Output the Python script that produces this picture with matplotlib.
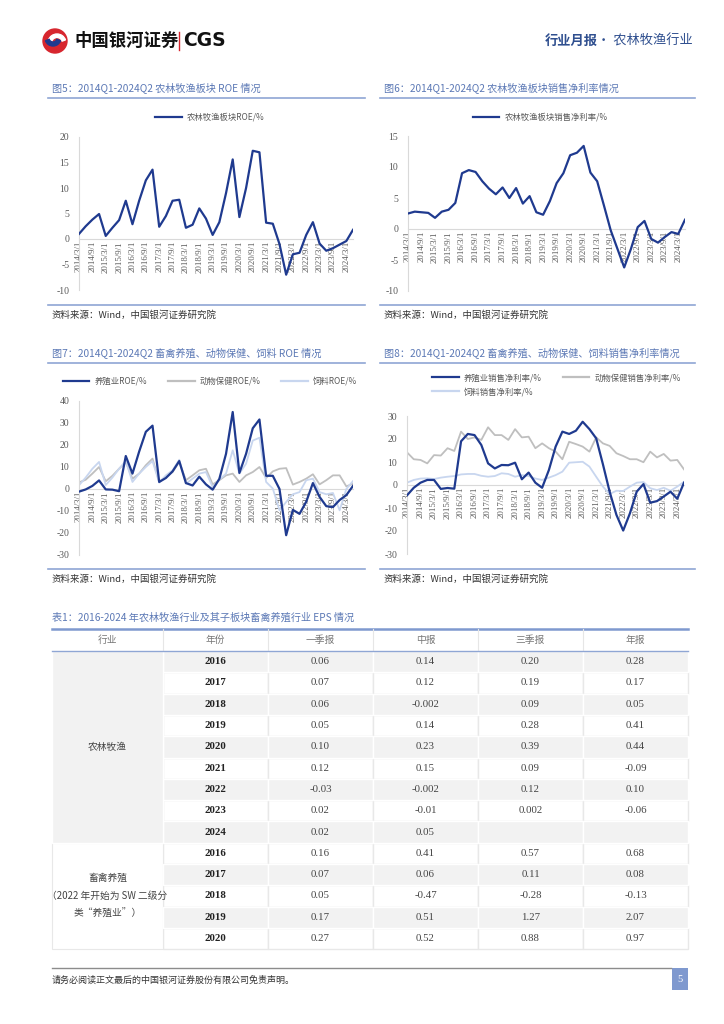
import matplotlib
matplotlib.use('Agg')
import matplotlib.pyplot as plt
from matplotlib.patches import Rectangle, Circle, Wedge
from matplotlib.lines import Line2D

plt.rcParams['font.family'] = ['Noto Sans CJK SC', 'DejaVu Sans']

# ---- data ----
tick_labels = ['2014/3/1', '2014/9/1', '2015/3/1', '2015/9/1', '2016/3/1', '2016/9/1',
               '2017/3/1', '2017/9/1', '2018/3/1', '2018/9/1', '2019/3/1', '2019/9/1',
               '2020/3/1', '2020/9/1', '2021/3/1', '2021/9/1', '2022/3/1', '2022/9/1',
               '2023/3/1', '2023/9/1', '2024/3/1']

# 图5 农林牧渔板块ROE/%  (2014Q1-2024Q2)
roe_all = [1.0, 2.5, 3.8, 4.9, 0.6, 2.2, 3.7, 7.5, 2.9, 7.5, 11.5, 13.6, 2.4, 4.5,
           7.5, 7.7, 2.2, 2.8, 6.0, 4.0, 0.8, 3.3, 9.0, 15.6, 4.3, 10.0, 17.3, 17.0,
           3.2, 3.0, -1.0, -7.0, -3.0, -2.7, 0.8, 3.3, -0.9, -2.3, -1.8, -1.1, -0.4, 1.8]

# 图6 农林牧渔板块销售净利率/%
npm_all = [2.5, 2.8, 2.7, 2.6, 1.8, 2.8, 3.1, 4.2, 9.0, 9.5, 9.2, 7.7, 6.5, 5.6,
           6.7, 5.0, 6.6, 4.1, 5.3, 2.7, 2.3, 4.5, 7.4, 9.0, 11.9, 12.3, 13.4, 9.1,
           7.7, 3.8, -0.2, -3.2, -6.2, -3.2, 0.3, 1.3, -1.6, -2.2, -1.3, -0.5, -0.8, 1.5]

# 图7 ROE/%
roe_breed = [-1.2, -0.2, 1.4, 3.9, -0.2, -0.3, -1.0, 15.0, 7.0, 17.0, 26.0, 28.8, 3.2, 5.0,
             8.0, 12.7, 2.7, 1.6, 5.6, 2.1, -0.3, 4.6, 16.0, 35.0, 7.3, 16.0, 27.6, 31.6,
             6.0, 6.0, 0.0, -21.0, -9.5, -11.3, -5.8, 2.7, -3.6, -7.8, -8.2, -5.0, -2.8, 1.4]
roe_health = [3.0, 4.2, 7.0, 10.0, 3.5, 6.0, 9.2, 12.3, 4.7, 7.0, 10.8, 13.8, 3.3, 5.5,
              7.7, 12.3, 4.0, 6.2, 8.5, 9.2, 2.1, 4.0, 6.2, 7.0, 3.2, 6.2, 7.7, 10.0,
              5.0, 8.0, 9.2, 9.5, 2.0, 3.2, 4.7, 6.7, 2.1, 4.0, 6.2, 6.2, 1.2, 2.4]
roe_feed = [1.7, 5.2, 9.2, 12.3, 1.8, 5.2, 9.2, 12.7, 3.2, 7.0, 10.0, 12.7, 2.9, 6.2,
            8.5, 13.3, 2.4, 4.7, 7.0, 7.7, 0.9, 4.2, 7.0, 17.6, 7.0, 11.5, 22.0, 23.3,
            3.2, 0.2, -9.7, -5.9, -2.4, -1.4, 4.0, 4.7, -1.4, -2.4, -1.8, -9.7, 0.0, 3.6]

# 图8 销售净利率/%
npm_breed = [-4.5, -1.2, 1.0, 2.2, 2.2, -1.7, -1.3, -1.6, 19.0, 22.2, 21.7, 17.4, 9.4, 7.2,
             8.7, 8.6, 9.7, 2.5, 5.4, 1.0, -1.2, 6.5, 16.7, 23.2, 22.2, 23.6, 27.5, 24.3,
             20.3, 9.0, -3.0, -13.0, -19.8, -12.3, -2.9, 0.4, -7.7, -7.0, -5.0, -2.9, -6.0, 1.0]
npm_health = [14.2, 11.2, 10.9, 9.4, 13.0, 12.8, 16.0, 14.8, 23.2, 20.0, 20.7, 19.6, 25.1, 21.7,
              21.7, 19.6, 24.3, 20.7, 21.0, 16.0, 18.1, 16.0, 14.5, 11.2, 18.8, 17.8, 16.7, 14.5,
              20.7, 18.1, 17.0, 13.8, 12.6, 11.2, 11.2, 9.9, 14.5, 12.0, 13.5, 10.6, 10.9, 6.8]
npm_feed = [1.0, 2.2, 2.8, 2.9, 2.6, 3.2, 3.6, 3.9, 4.6, 4.8, 4.8, 4.0, 3.6, 3.9,
            5.1, 4.8, 3.6, 4.3, 3.9, 2.8, 2.2, 3.2, 4.3, 5.8, 9.7, 9.9, 10.1, 8.0,
            3.6, -0.7, -3.9, -2.5, -2.6, -0.7, 1.0, 1.3, -1.4, -2.2, -1.2, -2.5, -0.7, 1.4]

# 表1 EPS
col_headers = ['行业', '年份', '一季报', '中报', '三季报', '年报']
years_a = ['2016', '2017', '2018', '2019', '2020', '2021', '2022', '2023', '2024']
q1_a = ['0.06', '0.07', '0.06', '0.05', '0.10', '0.12', '-0.03', '0.02', '0.02']
h1_a = ['0.14', '0.12', '-0.002', '0.14', '0.23', '0.15', '-0.002', '-0.01', '0.05']
q3_a = ['0.20', '0.19', '0.09', '0.28', '0.39', '0.09', '0.12', '0.002', '']
fy_a = ['0.28', '0.17', '0.05', '0.41', '0.44', '-0.09', '0.10', '-0.06', '']
years_b = ['2016', '2017', '2018', '2019', '2020']
q1_b = ['0.16', '0.07', '0.05', '0.17', '0.27']
h1_b = ['0.41', '0.06', '-0.47', '0.51', '0.52']
q3_b = ['0.57', '0.11', '-0.28', '1.27', '0.88']
fy_b = ['0.68', '0.08', '-0.13', '2.07', '0.97']

# ---- colours ----
DARK = '#1f3a8f'
GRAY = '#bfbfbf'
LIGHT = '#c8d6ef'
CAP = '#5b78b5'
CAPLINE = '#8fa6d4'
TXT = '#595959'
SERIF = 'Liberation Serif'

W, H = 724, 1024
fig = plt.figure(figsize=(W / 100, H / 100), dpi=100)
page = fig.add_axes([0, 0, 1, 1])
page.set_xlim(0, W)
page.set_ylim(H, 0)
page.axis('off')


def panel(l, t, r, b):
    return fig.add_axes([l / W, 1 - b / H, (r - l) / W, (b - t) / H])


# ---- header ----
page.add_patch(Circle((55, 41), 12, color='#d7262e'))
page.add_patch(Wedge((57, 43), 9, 200, 340, width=3.5, color='white'))
page.add_patch(Wedge((53, 38), 8, 20, 160, width=4, color='#1f3a8f'))
page.text(74, 41, '中国银河证券', fontsize=12.5, fontweight='bold', va='center', color='#111111')
page.plot([178.5, 178.5], [32, 50], color='#d7262e', lw=1)
page.text(183, 41, 'CGS', fontsize=13.5, fontweight='bold', va='center', color='#111111',
          family='DejaVu Sans')
page.text(545, 41, '行业月报', fontsize=9.5, fontweight='bold', va='center', color='#2f4f8f')
page.text(597, 41, '· 农林牧渔行业', fontsize=9.5, va='center', color='#2f4f8f')


def caption(x0, x1, y, text):
    page.text(x0 + 4, y, text, fontsize=7.3, color=CAP, va='center')
    page.plot([x0, x1], [y + 10, y + 10], color=CAPLINE, lw=1.2)


def source(x0, x1, y):
    page.plot([x0, x1], [y, y], color=CAPLINE, lw=1.2)
    page.text(x0 + 4, y + 10, '资料来源：Wind，中国银河证券研究院', fontsize=6.8, color='#333333',
              va='center', style='italic')


caption(48, 365, 88, '图5：2014Q1-2024Q2 农林牧渔板块 ROE 情况')
caption(380, 695, 88, '图6：2014Q1-2024Q2 农林牧渔板块销售净利率情况')
caption(48, 365, 353, '图7：2014Q1-2024Q2 畜禽养殖、动物保健、饲料 ROE 情况')
caption(380, 695, 353, '图8：2014Q1-2024Q2 畜禽养殖、动物保健、饲料销售净利率情况')
source(48, 365, 305)
source(380, 695, 305)
source(48, 365, 569)
source(380, 695, 569)


def chart(box, series, colors, widths, orders, ylim, yticks):
    ax = panel(*box)
    ax.patch.set_alpha(0)
    # move the category axis to y=0 first (this resets the tick objects)
    for k in ['top', 'right']:
        ax.spines[k].set_visible(False)
    ax.spines['bottom'].set_position(('data', 0))
    ax.spines['bottom'].set_color('#d9d9d9')
    ax.spines['left'].set_color('#d9d9d9')
    ax.spines['bottom'].set_zorder(0.5)
    for s, c, w, z in zip(series, colors, widths, orders):
        ax.plot(range(len(s)), s, color=c, lw=w, zorder=z)
    ax.set_xlim(0, len(series[0]) - 1)
    ax.set_ylim(*ylim)
    ax.set_yticks(yticks)
    ax.set_yticklabels([str(v) for v in yticks], family=SERIF, fontsize=7, color=TXT)
    ax.set_xticks(range(0, len(series[0]), 2))
    ax.set_xticklabels(tick_labels, family=SERIF, fontsize=6.3, color=TXT, rotation=90)
    ax.tick_params(axis='x', length=0, pad=1.5)
    ax.tick_params(axis='y', length=0, pad=7)
    return ax


chart((79, 137, 353, 290), [roe_all], [DARK], [1.6], [3], (-10, 20), [-10, -5, 0, 5, 10, 15, 20])
chart((408, 136, 685, 291), [npm_all], [DARK], [1.6], [3], (-10, 15), [-10, -5, 0, 5, 10, 15])
chart((79, 401, 353, 555), [roe_breed, roe_health, roe_feed], [DARK, GRAY, LIGHT],
      [1.6, 1.3, 1.3], [3, 2, 2.5], (-30, 40), [-30, -20, -10, 0, 10, 20, 30, 40])
chart((407, 416, 684, 554), [npm_breed, npm_health, npm_feed], [DARK, GRAY, LIGHT],
      [1.6, 1.3, 1.3], [3, 2, 2.5], (-30, 30), [-30, -20, -10, 0, 10, 20, 30])


def legend(labels, colors, anchor, loc, ncol):
    hs = [Line2D([], [], color=c, lw=1.6) for c in colors]
    fig.legend(hs, labels, loc=loc, bbox_to_anchor=(anchor[0] / W, 1 - anchor[1] / H), ncol=ncol,
               frameon=False, fontsize=6, handlelength=3.2, handletextpad=0.6, columnspacing=2.5,
               labelcolor=TXT, borderaxespad=0, borderpad=0, labelspacing=0.6)


legend(['农林牧渔板块ROE/%'], [DARK], (210, 117), 'center', 1)
legend(['农林牧渔板块销售净利率/%'], [DARK], (540, 117), 'center', 1)
legend(['养殖业ROE/%', '动物保健ROE/%', '饲料ROE/%'], [DARK, GRAY, LIGHT], (210, 381), 'center', 3)
# column-major fill: first column = 养殖业, 饲料 ; second column = 动物保健
legend(['养殖业销售净利率/%', '饲料销售净利率/%', '动物保健销售净利率/%'], [DARK, LIGHT, GRAY],
       (432, 373), 'upper left', 2)

# ---- table ----
page.text(52, 617, '表1：2016-2024 年农林牧渔行业及其子板块畜禽养殖行业 EPS 情况', fontsize=7.3,
          color=CAP, va='center')
cols = [52, 163, 268, 373, 478, 583, 688]
top, head_h, row_h = 629, 22, 21.3
page.plot([cols[0], cols[-1]], [top, top], color='#7f99cf', lw=1.8)
for j, h in enumerate(col_headers):
    page.text((cols[j] + cols[j + 1]) / 2, top + head_h / 2, h, fontsize=7, color='#777777',
              ha='center', va='center')
    if j > 0:
        page.plot([cols[j], cols[j]], [top, top + head_h], color='#e6e6e6', lw=0.8)

rows = []
for k in range(len(years_a)):
    rows.append([years_a[k], q1_a[k], h1_a[k], q3_a[k], fy_a[k]])
for k in range(len(years_b)):
    rows.append([years_b[k], q1_b[k], h1_b[k], q3_b[k], fy_b[k]])

y0 = top + head_h
for i, r in enumerate(rows):
    yt = y0 + i * row_h
    shade = i % 2 == 0
    for j in range(1, 6):
        page.add_patch(Rectangle((cols[j], yt), cols[j + 1] - cols[j], row_h,
                                 facecolor='#f2f2f2' if shade else 'white',
                                 edgecolor='white' if shade else '#e8e8e8', lw=1, zorder=1 if not shade else 2))
        txt = r[j - 1]
        if j == 1:
            page.text((cols[j] + cols[j + 1]) / 2, yt + row_h / 2, txt, family=SERIF, fontweight='bold',
                      fontsize=7.8, color='#222222', ha='center', va='center', zorder=3)
        else:
            page.text((cols[j] + cols[j + 1]) / 2, yt + row_h / 2, txt, family=SERIF,
                      fontsize=7.8, color='#444444', ha='center', va='center', zorder=3)

na = len(years_a)
page.add_patch(Rectangle((cols[0], y0), cols[1] - cols[0], na * row_h, facecolor='#f2f2f2',
                         edgecolor='white', lw=1, zorder=2))
page.add_patch(Rectangle((cols[0], y0 + na * row_h), cols[1] - cols[0], len(years_b) * row_h,
                         facecolor='white', edgecolor='#e8e8e8', lw=0.8, zorder=1))
page.plot([cols[0], cols[-1]], [y0, y0], color='#8fa6d4', lw=1, zorder=4)
page.text((cols[0] + cols[1]) / 2, y0 + na * row_h / 2, '农林牧渔', fontsize=7, color='#444444',
          ha='center', va='center', zorder=3)
page.text((cols[0] + cols[1]) / 2, y0 + (na + len(years_b) / 2) * row_h,
          '畜禽养殖\n（2022 年开始为 SW 二级分\n类“养殖业”）', fontsize=7, color='#444444',
          ha='center', va='center', linespacing=2.0, zorder=3)

# ---- footer ----
page.plot([52, 671], [968, 968], color='#8c8c8c', lw=1)
page.text(52, 980, '请务必阅读正文最后的中国银河证券股份有限公司免责声明。', fontsize=6.5,
          color='#333333', va='center')
page.add_patch(Rectangle((672, 968), 16, 22, facecolor='#7f99cf', edgecolor='none'))
page.text(680, 979, '5', family=SERIF, fontsize=7.5, color='white', ha='center', va='center')

fig.savefig('out.png', dpi=100)
